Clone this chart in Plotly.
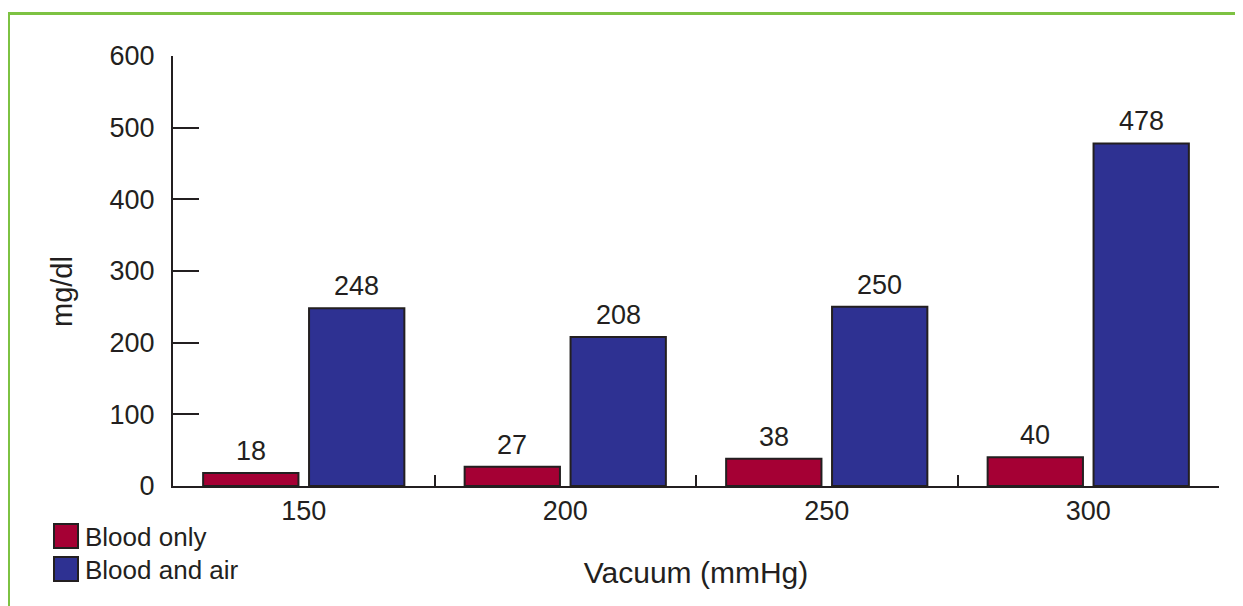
import plotly.graph_objects as go

categories = ["150", "200", "250", "300"]
blood_only = [18, 27, 38, 40]
blood_and_air = [248, 208, 250, 478]
series_names = ["Blood only", "Blood and air"]
y_ticks = [0, 100, 200, 300, 400, 500, 600]

RED = "#a50034"
BLUE = "#2e3192"
EDGE = "#231f20"
TEXT = "#231f20"
GREEN = "#7dc242"
FONT = "Liberation Sans, Arial, Helvetica, sans-serif"

OFF = 8  # page body margin
W, H = 1243, 606
X0, X1, Y0, Y1 = 173, 1219, 56, 486
ML, MT = X0 - OFF, Y0 - OFF
MR, MB = W - (X1 - OFF), H - (Y1 - OFF)
PW, PH = X1 - X0, Y1 - Y0
BARGAP = 0.19


def px(x):
    return (x - X0) / PW


def py(y):
    return (Y1 - y) / PH


fig = go.Figure()
half = 0.25 * (1 - BARGAP) * PW / len(categories)
for k, (name, vals, col) in enumerate([(series_names[0], blood_only, RED), (series_names[1], blood_and_air, BLUE)]):
    fig.add_trace(go.Bar(
        x=categories, y=vals, name=name,
        marker=dict(color=col, line=dict(color=EDGE, width=2)),
        showlegend=False,
    ))
    for i, v in enumerate(vals):
        fig.add_annotation(x=i, y=v, xref="x", yref="y", text=str(v), showarrow=False,
                           xanchor="center", yanchor="bottom", xshift=(2 * k - 1) * half, yshift=5,
                           font=dict(size=27, color=TEXT, family=FONT))

shapes = [
    dict(type="line", xref="paper", yref="paper", x0=px(8.5), x1=px(W + 20), y0=py(13.5), y1=py(13.5),
         line=dict(color=GREEN, width=3)),
    dict(type="line", xref="paper", yref="paper", x0=px(8.5), x1=px(8.5), y0=py(12), y1=py(H + 20),
         line=dict(color=GREEN, width=3)),
]
fig.add_annotation(text="mg/dl", textangle=-90, xref="paper", yref="paper", x=px(62), y=py(292),
                   showarrow=False, font=dict(size=29, color=TEXT, family=FONT), xanchor="center", yanchor="middle")
for i, (name, col) in enumerate([(series_names[0], RED), (series_names[1], BLUE)]):
    top = 524 + i * 33
    shapes.append(dict(type="rect", xref="paper", yref="paper", x0=px(54), x1=px(78), y0=py(top + 24), y1=py(top),
                       fillcolor=col, line=dict(color=EDGE, width=2)))
    fig.add_annotation(text=name, xref="paper", yref="paper", x=px(83), y=py(top + 13),
                       xanchor="left", yanchor="middle", showarrow=False,
                       font=dict(size=26, color=TEXT, family=FONT))

fig.update_layout(
    width=W, height=H,
    margin=dict(l=ML, r=MR, t=MT, b=MB, pad=0),
    paper_bgcolor="white", plot_bgcolor="white",
    font=dict(family=FONT, color=TEXT, size=27),
    barmode="group", bargap=BARGAP, bargroupgap=0.1,
    shapes=shapes,
    xaxis=dict(
        type="category", categoryorder="array", categoryarray=categories,
        range=[-0.5, len(categories) - 0.5], autorange=False,
        showline=True, linecolor=EDGE, linewidth=2,
        ticks="inside", tickson="boundaries", ticklen=11, tickwidth=2, tickcolor=EDGE,
        tickfont=dict(size=27, color=TEXT), showgrid=False, zeroline=False,
        title=dict(text="Vacuum (mmHg)", font=dict(size=30, color=TEXT), standoff=37),
    ),
    yaxis=dict(
        range=[0, 600], tickvals=y_ticks, showline=True, linecolor=EDGE, linewidth=2,
        ticks="inside", ticklen=26, tickwidth=2, tickcolor=EDGE,
        tickfont=dict(size=27, color=TEXT), showgrid=False, zeroline=False,
        ticklabelstandoff=11,
    ),
)

fig.write_html("out.html")
